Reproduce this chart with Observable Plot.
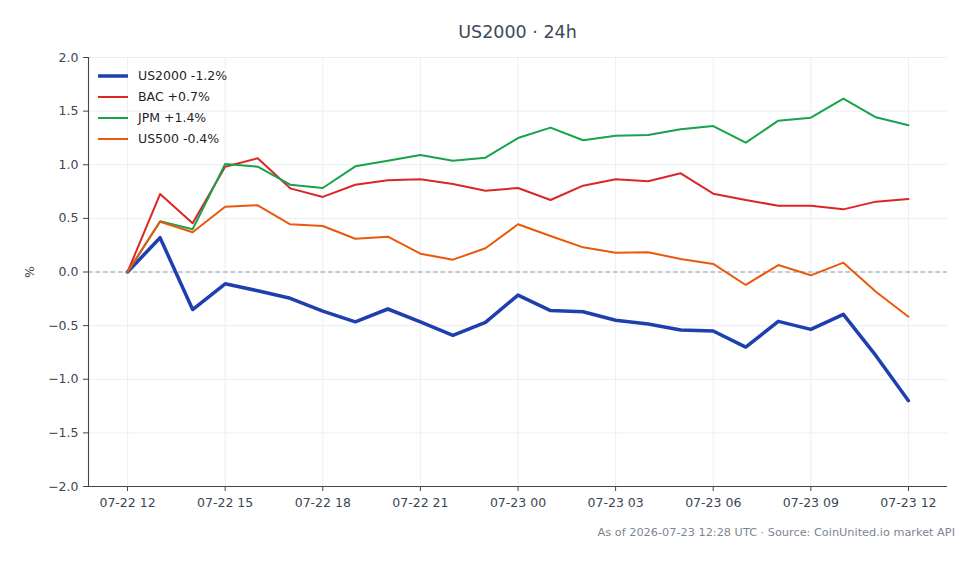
<!DOCTYPE html>
<html>
<head>
<meta charset="utf-8">
<script src="https://cdn.jsdelivr.net/npm/d3@7"></script>
<script src="https://cdn.jsdelivr.net/npm/@observablehq/plot@0.6"></script>
<style>
  body { margin: 0; background: #fff; font-family: "DejaVu Sans", sans-serif; }
  #wrap { position: relative; width: 979px; height: 564px; overflow: hidden; }
  #title { position: absolute; left: 88px; width: 859px; top: 20px; line-height: 24px;
           text-align: center; font-size: 17.5px; color: #3d4a5b; }
  #chart { position: absolute; left: 0; top: 44px; }
  #legend { position: absolute; left: 98px; top: 65px; font-size: 12.5px; color: #1f1f1f; }
  #legend .row { display: flex; align-items: center; height: 21px; }
  #legend svg { margin-right: 10px; }
  #caption { position: absolute; right: 24px; top: 526px; line-height: 14px;
             font-size: 11.3px; color: #7c8693; }
</style>
</head>
<body>
<div id="wrap">
  <div id="title">US2000 · 24h</div>
  <div id="chart"></div>
  <div id="legend"></div>
  <div id="caption">As of 2026-07-23 12:28 UTC · Source: CoinUnited.io market API</div>
</div>
<script>
// Hourly timestamps (UTC) for the last 24 hours
const hours = [
  "2026-07-22T12:00Z", "2026-07-22T13:00Z", "2026-07-22T14:00Z", "2026-07-22T15:00Z",
  "2026-07-22T16:00Z", "2026-07-22T17:00Z", "2026-07-22T18:00Z", "2026-07-22T19:00Z",
  "2026-07-22T20:00Z", "2026-07-22T21:00Z", "2026-07-22T22:00Z", "2026-07-22T23:00Z",
  "2026-07-23T00:00Z", "2026-07-23T01:00Z", "2026-07-23T02:00Z", "2026-07-23T03:00Z",
  "2026-07-23T04:00Z", "2026-07-23T05:00Z", "2026-07-23T06:00Z", "2026-07-23T07:00Z",
  "2026-07-23T08:00Z", "2026-07-23T09:00Z", "2026-07-23T10:00Z", "2026-07-23T11:00Z",
  "2026-07-23T12:00Z"
];

// Percent change since the first hour
const us2000 = [0, 0.32, -0.35, -0.11, -0.175, -0.245, -0.365, -0.465, -0.345, -0.465, -0.59, -0.47,
  -0.215, -0.36, -0.37, -0.45, -0.485, -0.54, -0.55, -0.70, -0.46, -0.535, -0.395, -0.78, -1.20];
const bac = [0, 0.727, 0.454, 0.982, 1.06, 0.78, 0.70, 0.814, 0.855, 0.864, 0.82, 0.758,
  0.783, 0.671, 0.805, 0.864, 0.846, 0.92, 0.73, 0.671, 0.618, 0.618, 0.584, 0.656, 0.68];
const jpm = [0, 0.473, 0.398, 1.007, 0.982, 0.814, 0.783, 0.985, 1.038, 1.091, 1.038, 1.066,
  1.249, 1.346, 1.228, 1.271, 1.277, 1.33, 1.361, 1.206, 1.411, 1.439, 1.616, 1.442, 1.368];
const us500 = [0, 0.469, 0.37, 0.609, 0.622, 0.445, 0.429, 0.31, 0.329, 0.171, 0.115, 0.221,
  0.445, 0.336, 0.23, 0.18, 0.184, 0.121, 0.075, -0.121, 0.065, -0.031, 0.087, -0.184, -0.417];

const seriesNames = ["US2000", "BAC", "JPM", "US500"];
const seriesValues = [us2000, bac, jpm, us500];
const seriesColors = ["#1e40af", "#dc2626", "#16a34a", "#ea580c"];
const seriesWidths = [3.5, 2, 2, 2];

const yTicks = [-2, -1.5, -1, -0.5, 0, 0.5, 1, 1.5, 2];
const yDomain = [-2, 2];

const times = hours.map(h => new Date(h));
const pad = (times[times.length - 1] - times[0]) * 0.05;
const xDomain = [new Date(+times[0] - pad), new Date(+times[times.length - 1] + pad)];
const xTicks = d3.utcHour.every(3).range(times[0], new Date(+times[times.length - 1] + 1));

const series = seriesNames.map((name, i) => ({
  name,
  color: seriesColors[i],
  width: seriesWidths[i],
  rows: seriesValues[i].map((v, j) => ({t: times[j], v})),
  last: seriesValues[i][seriesValues[i].length - 1]
}));

const axisColor = "#3b4656";
const gridColor = "#e7eaf0";

const chart = Plot.plot({
  width: 979,
  height: 476,
  marginLeft: 88,
  marginRight: 32,
  marginTop: 13,
  marginBottom: 34,
  style: {fontFamily: "DejaVu Sans, sans-serif", fontSize: "12.5px", color: axisColor, background: "#fff"},
  x: {type: "utc", domain: xDomain},
  y: {domain: yDomain},
  marks: [
    Plot.gridX(xTicks, {stroke: gridColor, strokeOpacity: 1, strokeWidth: 0.8}),
    Plot.gridY(yTicks, {stroke: gridColor, strokeOpacity: 1, strokeWidth: 0.8}),
    Plot.ruleY([0], {stroke: "#8d9bb4", strokeWidth: 1.1, strokeDasharray: "4.5,3"}),
    ...series.map(s => Plot.line(s.rows, {x: "t", y: "v", stroke: s.color, strokeWidth: s.width,
      strokeLinejoin: "round", strokeLinecap: "round"})),
    Plot.axisX({ticks: xTicks, tickFormat: d3.utcFormat("%m-%d %H"), tickSize: 5, tickPadding: 7,
      label: null, stroke: axisColor, fill: axisColor}),
    Plot.axisY({ticks: yTicks, tickFormat: d3.format(".1f"), tickSize: 5, tickPadding: 5,
      label: "%", labelAnchor: "center", labelArrow: "none", labelOffset: 63,
      stroke: axisColor, fill: axisColor}),
    Plot.ruleX([xDomain[0]], {y1: yDomain[0], y2: yDomain[1], stroke: axisColor, strokeWidth: 1.1}),
    Plot.ruleY([yDomain[0]], {stroke: axisColor, strokeWidth: 1.1})
  ]
});
document.getElementById("chart").appendChild(chart);

// Legend: swatch + name with the final change
const fmtChange = v => (v >= 0 ? "+" : "-") + Math.abs(v).toFixed(1) + "%";
const legend = d3.select("#legend");
series.forEach(s => {
  const row = legend.append("div").attr("class", "row");
  const sw = row.append("svg").attr("width", 30).attr("height", 10);
  sw.append("line").attr("x1", 0).attr("x2", 30).attr("y1", 5).attr("y2", 5)
    .attr("stroke", s.color).attr("stroke-width", s.width);
  row.append("span").text(`${s.name} ${fmtChange(s.last)}`);
});
</script>
</body>
</html>
